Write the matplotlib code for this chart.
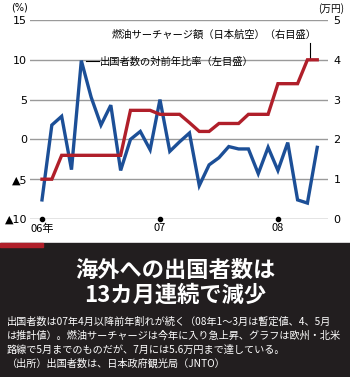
import matplotlib.pyplot as plt

plt.rcParams["font.family"] = ["Noto Sans CJK JP", "DejaVu Sans"]

# 2006/01 .. 2008/05, monthly
months = list(range(29))
departures_yoy = [-7.6, 1.8, 2.9, -3.8, 9.9, 5.3, 1.8, 4.3, -3.9, 0.0,
                  1.0, -1.3, 5.0, -1.5, -0.3, 0.8, -5.8, -3.2, -2.3, -0.9,
                  -1.2, -1.2, -4.3, -1.0, -3.9, -0.4, -7.6, -8.0, -1.0]
surcharge = [1.0, 1.0, 1.6, 1.6, 1.6, 1.6, 1.6, 1.6, 1.6, 2.73,
             2.73, 2.73, 2.63, 2.63, 2.63, 2.42, 2.2, 2.2, 2.4, 2.4,
             2.4, 2.63, 2.63, 2.63, 3.4, 3.4, 3.4, 4.0, 4.0]
left_ticks = [-10, -5, 0, 5, 10, 15]
left_labels = ["▲10", "▲5", "0", "5", "10", "15"]
right_ticks = [0, 1, 2, 3, 4, 5]
year_pos = [0, 12, 24]
year_labels = ["06年", "07", "08"]

title = "海外への出国者数は\n13カ月連続で減少"
body = [
    "出国者数は07年4月以降前年割れが続く（08年1～3月は暫定値、4、5月",
    "は推計値）。燃油サーチャージは今年に入り急上昇、グラフは欧州・北米",
    "路線で5月までのものだが、7月には5.6万円まで達している。",
    "（出所）出国者数は、日本政府観光局（JNTO）",
]

BLUE = "#1c4f97"
RED = "#b01f2a"
GRID = "#9a9a9a"
DARK = "#221e1f"

W, H = 350, 377
fig = plt.figure(figsize=(W / 100, H / 100), dpi=100)

ax = fig.add_axes([30 / W, 1 - 219 / H, (328 - 30) / W, (219 - 20) / H])
ax.set_xlim(-12 / 9.83, 286 / 9.83)
ax.set_ylim(-10, 15)
for s in ax.spines.values():
    s.set_visible(False)
for v in left_ticks:
    ax.axhline(v, color="#777777" if v == -10 else GRID, lw=1.0, zorder=1)
ax.set_yticks(left_ticks)
ax.set_yticklabels(left_labels, fontsize=8, family=["DejaVu Sans", "Noto Sans CJK JP"])
ax.tick_params(axis="y", length=0, pad=2)
ax.set_xticks(year_pos)
ax.set_xticklabels(year_labels, fontsize=8)
ax.tick_params(axis="x", length=0, pad=3)
ax.plot(year_pos, [-10] * 3, "o", color="black", ms=3, zorder=4, clip_on=False)

ax2 = ax.twinx()
ax2.set_ylim(0, 5)
for s in ax2.spines.values():
    s.set_visible(False)
ax2.set_yticks(right_ticks)
ax2.set_yticklabels([str(v) for v in right_ticks], fontsize=8, family="DejaVu Sans")
ax2.tick_params(axis="y", length=0, pad=4)

ax2.plot(months, surcharge, color=RED, lw=2.4, zorder=3, solid_joinstyle="miter")
ax.plot(months, departures_yoy, color=BLUE, lw=2.4, zorder=5, solid_joinstyle="miter")

# annotations
ax2.text(27.9, 4.64, "燃油サーチャージ額（日本航空）（右目盛）", fontsize=7.4,
         ha="right", va="center")
ax2.plot([27.3, 27.3], [4.0, 4.42], color="black", lw=0.8)
ax.text(5.9, 9.8, "出国者数の対前年比率（左目盛）", fontsize=7.4, ha="left", va="center")
ax.plot([4.5, 5.8], [9.8, 9.8], color="black", lw=0.8)

fig.text(20 / W, 1 - 8 / H, "(%)", fontsize=7, ha="center", va="center", family="DejaVu Sans")
fig.text(331 / W, 1 - 9 / H, "(万円)", fontsize=7, ha="center", va="center")

# bottom dark panel
fig.patches.append(plt.Rectangle((0, 0), 1, (H - 243) / H, transform=fig.transFigure,
                                 color=DARK, zorder=0))
fig.patches.append(plt.Rectangle((0, (H - 247) / H), 43 / W, 4 / H, transform=fig.transFigure,
                                 color=RED, zorder=1))
fig.text(0.5, 1 - 283 / H, title, fontsize=16, weight="bold", color="white",
         ha="center", va="center", linespacing=1.1)
for k, line in enumerate(body):
    fig.text(7 / W, 1 - (322 + 14 * k) / H, line, fontsize=7.3, color="white",
             ha="left", va="center")

fig.savefig("out.png", dpi=100)
